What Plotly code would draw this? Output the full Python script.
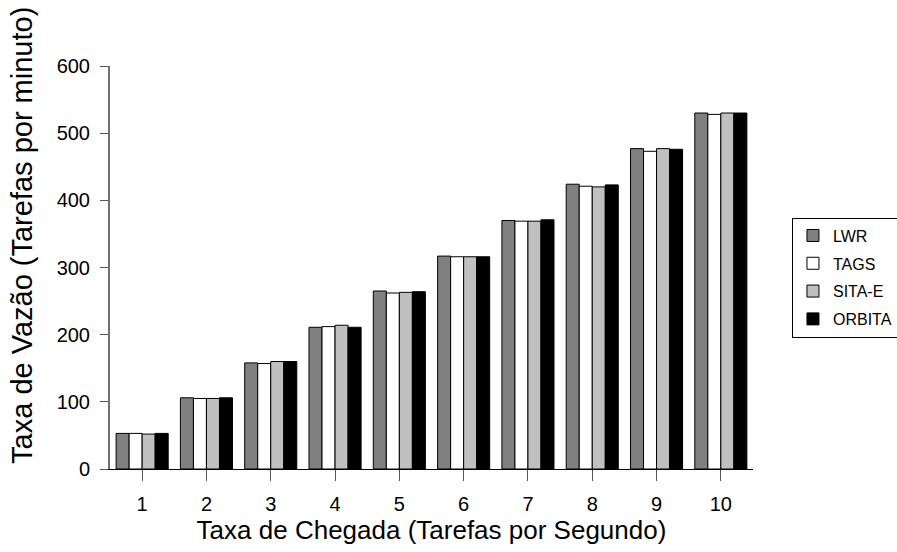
import plotly.graph_objects as go

# Arrival rate (tasks per second)
categories = [1, 2, 3, 4, 5, 6, 7, 8, 9, 10]

# Throughput (tasks per minute) for each scheduling policy
lwr = [53, 106, 158, 211, 265, 317, 370, 424, 477, 530]
tags = [53, 105, 157, 212, 262, 316, 369, 421, 473, 528]
sita_e = [52, 105, 160, 214, 263, 316, 369, 420, 477, 530]
orbita = [53, 106, 160, 211, 264, 316, 371, 423, 476, 530]

series = [
    ("LWR", lwr, "#808080"),
    ("TAGS", tags, "#ffffff"),
    ("SITA-E", sita_e, "#c0c0c0"),
    ("ORBITA", orbita, "#000000"),
]

FONT = "Liberation Sans, Arial, sans-serif"

fig = go.Figure()
for name, vals, color in series:
    fig.add_trace(go.Bar(
        x=categories, y=vals, name=name, legendgroup=name,
        marker=dict(color=color, line=dict(color="#000000", width=1)),
    ))

fig.update_layout(
    width=897, height=552,
    margin=dict(l=110, r=144, t=66, b=83, autoexpand=False),
    paper_bgcolor="white", plot_bgcolor="white",
    barmode="group", bargap=0.19, bargroupgap=0,
    font=dict(family=FONT, color="#000000"),
    showlegend=True,
    legend=dict(
        x=1.0606, xanchor="left", y=0.475, yanchor="middle",
        bordercolor="#000000", borderwidth=1,
        font=dict(family=FONT, size=16, color="#000000"),
        tracegroupgap=4, itemwidth=30,
    ),
    xaxis=dict(
        range=[0.5, 10.5], tickmode="array", tickvals=categories,
        ticktext=[str(c) for c in categories],
        showgrid=False, zeroline=False,
        showline=True, linecolor="#000000", linewidth=1,
        ticks="outside", ticklen=11, tickcolor="#555555", tickwidth=1,
        tickfont=dict(size=20), ticklabelstandoff=6,
        title=dict(text="Taxa de Chegada (Tarefas por Segundo)",
                   font=dict(size=26), standoff=1),
    ),
    yaxis=dict(
        range=[0, 600], tickvals=[0, 100, 200, 300, 400, 500, 600],
        showgrid=False, zeroline=False,
        showline=True, linecolor="#707070", linewidth=2,
        ticks="outside", ticklen=8, tickcolor="#555555", tickwidth=1,
        tickfont=dict(size=20), ticklabelstandoff=6,
    ),
    annotations=[dict(
        text="Taxa de Vazão (Tarefas por minuto)",
        xref="paper", yref="paper", x=-0.137, y=0.5806,
        xanchor="center", yanchor="middle", textangle=-90,
        showarrow=False, font=dict(family=FONT, size=29, color="#000000"),
    )],
)

fig.write_html("out.html")
